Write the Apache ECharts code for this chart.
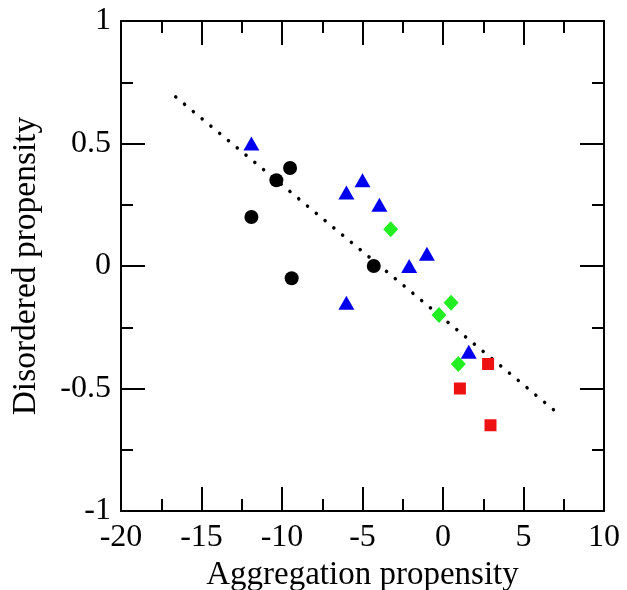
<!DOCTYPE html>
<html>
<head>
<meta charset="utf-8">
<script src="https://cdn.jsdelivr.net/npm/echarts@6/dist/echarts.min.js"></script>
<style>
html, body { margin: 0; padding: 0; background: #fff; }
#container { width: 627px; height: 590px; }
</style>
</head>
<body>
<div id="container"></div>
<script>
// data
var blackX = [-11.9, -10.35, -9.5, -9.4, -4.3];
var blackY = [0.2, 0.35, 0.4, -0.05, 0.0];
var blueX = [-11.9, -6.0, -5.0, -3.95, -2.1, -1.0, -6.0, 1.6];
var blueY = [0.5, 0.3, 0.35, 0.25, 0.0, 0.05, -0.15, -0.35];
var greenX = [-3.25, 0.5, -0.25, 0.95];
var greenY = [0.15, -0.15, -0.2, -0.4];
var redX = [2.8, 1.05, 2.95];
var redY = [-0.4, -0.5, -0.65];
// fitted trend line (dotted)
var fitX = [-16.6, 7.3];
var fitY = [0.69, -0.61];

function pairs(xs, ys) {
    var out = [];
    for (var i = 0; i < xs.length; i++) out.push([xs[i], ys[i]]);
    return out;
}

var dom = document.getElementById("container");
var myChart = echarts.init(dom);

var font = 'Liberation Serif';
var axisBase = {
    axisLine: { show: true, onZero: false, lineStyle: { color: '#000', width: 2 } },
    axisTick: { show: true, inside: true, length: 24, lineStyle: { color: '#000', width: 2 } },
    minorTick: { show: true, splitNumber: 2, length: 12, lineStyle: { color: '#000', width: 2 } },
    splitLine: { show: false }
};

function xAxisOf(pos, showLabel) {
    return echarts.util.merge({
        type: 'value',
        position: pos,
        min: -20, max: 10, interval: 5,
        name: showLabel ? 'Aggregation propensity' : '',
        nameLocation: 'middle',
        nameGap: 45,
        nameTextStyle: { fontFamily: font, fontSize: 33, color: '#000' },
        axisLabel: { show: showLabel, margin: 11, fontFamily: font, fontSize: 32, color: '#000' }
    }, echarts.util.clone(axisBase), true);
}
function yAxisOf(pos, showLabel) {
    return echarts.util.merge({
        type: 'value',
        position: pos,
        min: -1, max: 1, interval: 0.5,
        name: showLabel ? 'Disordered propensity' : '',
        nameLocation: 'middle',
        nameGap: 78,
        nameTextStyle: { fontFamily: font, fontSize: 33.5, color: '#000' },
        axisLabel: { show: showLabel, margin: 10, fontFamily: font, fontSize: 32, color: '#000' }
    }, echarts.util.clone(axisBase), true);
}

var option = {
    backgroundColor: '#fff',
    animation: false,
    grid: { left: 121, right: 23, top: 21, bottom: 79, containLabel: false, outerBoundsMode: 'none' },
    xAxis: [xAxisOf('bottom', true), xAxisOf('top', false)],
    yAxis: [yAxisOf('left', true), yAxisOf('right', false)],
    series: [
        {
            type: 'line',
            data: pairs(fitX, fitY),
            symbol: 'none',
            lineStyle: { color: '#000', width: 3.5, type: [0.1, 11.3], cap: 'round' },
            z: 1
        },
        {
            type: 'scatter',
            data: pairs(blackX, blackY),
            symbol: 'circle',
            symbolSize: 14,
            itemStyle: { color: '#000', opacity: 1 },
            z: 3
        },
        {
            type: 'scatter',
            data: pairs(blueX, blueY),
            symbol: 'triangle',
            symbolSize: [16, 14],
            itemStyle: { color: '#0000ee', opacity: 1 },
            z: 3
        },
        {
            type: 'scatter',
            data: pairs(greenX, greenY),
            symbol: 'diamond',
            symbolSize: [15, 16],
            itemStyle: { color: '#22ee22', opacity: 1 },
            z: 3
        },
        {
            type: 'scatter',
            data: pairs(redX, redY),
            symbol: 'rect',
            symbolSize: 12,
            itemStyle: { color: '#ee1111', opacity: 1 },
            z: 3
        }
    ]
};

if (option && typeof option === "object") {
    myChart.setOption(option, true);
}
</script>
</body>
</html>
